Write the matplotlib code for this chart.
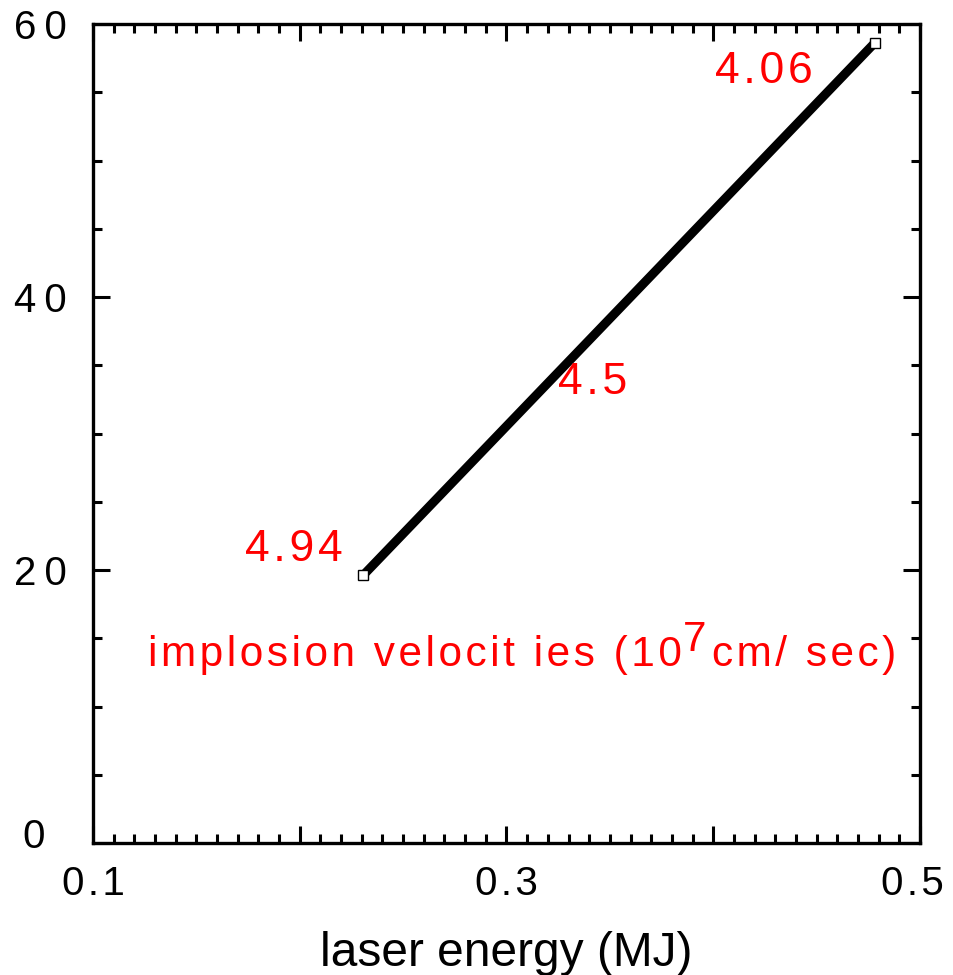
import matplotlib
matplotlib.use("Agg")
import matplotlib.pyplot as plt
from matplotlib.ticker import MultipleLocator
from matplotlib.transforms import ScaledTranslation

FAM = ['Liberation Sans', 'DejaVu Sans']
plt.rcParams['font.family'] = FAM

energy = [0.2306, 0.478]
gain = [19.6, 58.6]
label_text = ["4.94", "4.5", "4.06"]
label_x = [0.1972, 0.3418, 0.4245]
label_y = [21.5, 33.7, 56.5]
x_ticks = [0.1, 0.2, 0.3, 0.4, 0.5]
x_ticklabels = ["0.1", "", "0.3", "", "0.5"]
y_ticks = [0, 20, 40, 60]
y_ticklabels = ["0", "20", "40", "60"]

THIN = '\u2009'
HAIR = '\u200a'

def spaced(s, sep):
    return sep.join(s)

fig = plt.figure(figsize=(9.54, 9.75), dpi=100)
ax = fig.add_axes([93/954, 1-843/975, 827/954, 819/975])

ax.plot(energy, gain, color='black', lw=6.5, solid_capstyle='butt', zorder=2)
ax.plot(energy, gain, ls='none', marker='s', ms=7, mfc='white', mec='black', mew=1.0, zorder=3)

for t, x, y in zip(label_text, label_x, label_y):
    ax.text(x, y, spaced(t, HAIR), color='red', fontsize=32, ha='center', va='center')

# annotation: implosion velocities (10^7 cm/sec)
ax.text(0.1266, 13.77, spaced("implosion velocit ies (10", HAIR), color='red',
        fontsize=30.5, ha='left', va='center')
ax.text(0.3855, 14.9, "7", color='red', fontsize=30.5, ha='left', va='center')
ax.text(0.3996, 13.77, spaced("cm/ sec)", HAIR), color='red',
        fontsize=30.5, ha='left', va='center')

ax.set_xlim(0.1, 0.5)
ax.set_ylim(0, 60)
ax.set_xticks(x_ticks)
ax.set_xticklabels([spaced(t, HAIR) for t in x_ticklabels])
ax.xaxis.set_minor_locator(MultipleLocator(0.01))
ax.set_yticks(y_ticks)
ax.set_yticklabels([spaced(t, THIN) for t in y_ticklabels])
ax.yaxis.set_minor_locator(MultipleLocator(5))

ax.tick_params(which='both', direction='in', top=True, right=True, width=2.2, labelsize=29)
ax.tick_params(which='major', length=12.5)
ax.tick_params(which='minor', length=6.5)
ax.tick_params(axis='x', pad=16)
ax.tick_params(axis='y', pad=38)
for lab in ax.get_yticklabels():
    lab.set_horizontalalignment('center')
last = ax.xaxis.get_major_ticks()[-1].label1
last.set_transform(last.get_transform() + ScaledTranslation(-8/100, 0, fig.dpi_scale_trans))
zero = ax.yaxis.get_major_ticks()[0].label1
zero.set_transform(zero.get_transform() + ScaledTranslation(-7/100, 10/100, fig.dpi_scale_trans))
for s in ax.spines.values():
    s.set_linewidth(2.4)

ax.set_xlabel("laser energy (MJ)", fontsize=34.5, labelpad=20)

fig.savefig("out.png", dpi=100)
